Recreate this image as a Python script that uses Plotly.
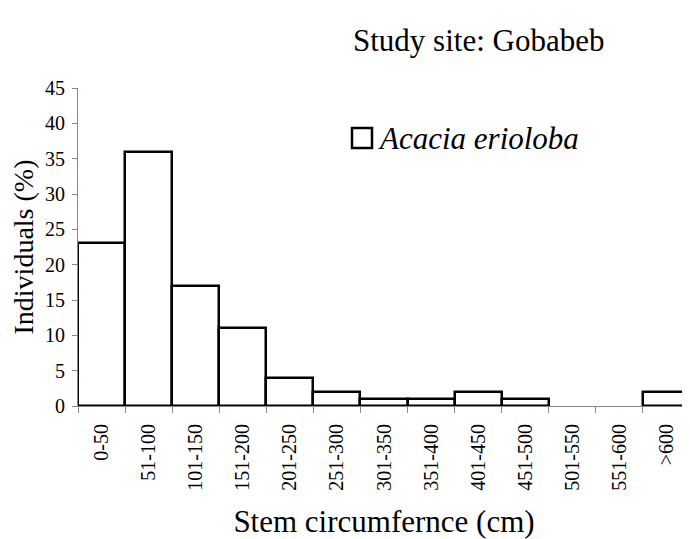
import plotly.graph_objects as go

categories = ["0-50", "51-100", "101-150", "151-200", "201-250", "251-300",
              "301-350", "351-400", "401-450", "451-500", "501-550", "551-600", ">600"]
individuals_pct = [23, 36, 17, 11, 4, 2, 1, 1, 2, 1, 0, 0, 2]
series_name = "Acacia erioloba"
y_ticks = [0, 5, 10, 15, 20, 25, 30, 35, 40, 45]

FONT = "Liberation Serif"

OFF = 8  # page body margin
W, H = 690 - OFF, 539 - OFF
L, R, T, B = 78 - OFF, 0, 88 - OFF, 133
PW, PH = W - L - R, H - T - B


def px(x):
    return (x - OFF - L) / PW


def py(y):
    return (H - B - (y - OFF)) / PH


fig = go.Figure()
fig.add_trace(go.Bar(
    x=categories,
    y=[v if v > 0 else None for v in individuals_pct],
    name=series_name,
    marker=dict(color="white", line=dict(color="black", width=2.5)),
    showlegend=False,
))

fig.update_layout(
    width=W, height=H,
    margin=dict(l=L, r=R, t=T, b=B),
    paper_bgcolor="white", plot_bgcolor="white",
    bargap=0,
    font=dict(family=FONT, color="black"),
    showlegend=False,
    shapes=[dict(
        type="rect", xref="paper", yref="paper",
        x0=px(352), x1=px(372), y0=py(148), y1=py(128),
        line=dict(color="black", width=2.5), fillcolor="white",
    )],
    annotations=[
        dict(text="Study site: Gobabeb", xref="paper", yref="paper",
             x=px(478), y=py(40), xanchor="center", yanchor="middle",
             showarrow=False, font=dict(family=FONT, size=31)),
        dict(text="<i>" + series_name + "</i>", xref="paper", yref="paper",
             x=px(376), y=py(138), xanchor="left", yanchor="middle",
             showarrow=False, font=dict(family=FONT, size=31)),
    ],
)

fig.update_xaxes(
    type="category",
    tickangle=-90,
    tickson="boundaries",
    ticks="outside", ticklen=6, tickcolor="#888", tickwidth=1,
    showline=True, linecolor="#888", linewidth=1,
    tickfont=dict(family=FONT, size=20),
    ticklabelstandoff=9,
    title=dict(text="Stem circumfernce (cm)", font=dict(family=FONT, size=31), standoff=20),
    showgrid=False, zeroline=False, automargin=False,
)
fig.update_yaxes(
    range=[0, 45],
    tickvals=y_ticks,
    ticks="outside", ticklen=5, tickcolor="#888", tickwidth=1,
    showline=True, linecolor="#888", linewidth=1,
    tickfont=dict(family=FONT, size=20),
    ticklabelstandoff=3,
    title=dict(text="Individuals (%)", font=dict(family=FONT, size=28), standoff=5),
    showgrid=False, zeroline=False, automargin=False,
)

fig.write_html("out.html")
